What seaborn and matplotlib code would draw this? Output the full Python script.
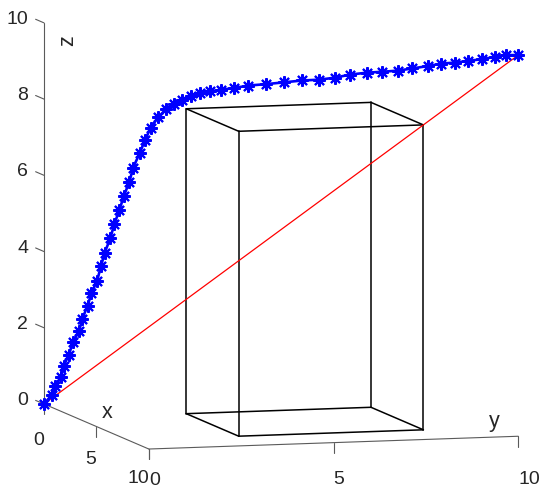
import numpy as np
import matplotlib
matplotlib.use("Agg")
import matplotlib.pyplot as plt
import seaborn as sns
from mpl_toolkits.mplot3d import proj3d

# Path (x = y along the path)
path_xy = [0.00, 0.16, 0.23, 0.36, 0.42, 0.52, 0.62, 0.74, 0.81, 0.92,
           1.00, 1.12, 1.20, 1.28, 1.40, 1.48, 1.59, 1.68, 1.80, 1.88,
           2.02, 2.13, 2.25, 2.41, 2.57, 2.74, 2.92, 3.09, 3.28, 3.50,
           3.73, 4.01, 4.31, 4.69, 5.07, 5.45, 5.80, 6.13, 6.46, 6.81,
           7.13, 7.47, 7.76, 8.09, 8.38, 8.66, 8.95, 9.24, 9.50, 9.75, 10.0]
path_z = [0.00, 0.25, 0.49, 0.74, 1.04, 1.33, 1.69, 1.98, 2.31, 2.66,
          2.99, 3.33, 3.71, 4.08, 4.47, 4.84, 5.22, 5.59, 5.98, 6.36,
          6.76, 7.10, 7.44, 7.73, 7.95, 8.10, 8.23, 8.33, 8.43, 8.50,
          8.56, 8.63, 8.72, 8.79, 8.87, 8.95, 9.00, 9.08, 9.19, 9.27,
          9.32, 9.38, 9.46, 9.55, 9.64, 9.69, 9.76, 9.83, 9.91, 9.98, 10.0]

# Straight line start -> goal
line_x = [0, 10]
line_y = [0, 10]
line_z = [0, 10]

# Obstacle box
box_x = [3, 8]
box_y = [3, 8]
box_z = [0, 8]

# Axes
x_ticks = [0, 5, 10]
y_ticks = [0, 5, 10]
z_ticks = [0, 2, 4, 6, 8, 10]
lim = (0, 10)

sns.set_style("white")
plt.rcParams["font.family"] = ["Liberation Sans", "DejaVu Sans"]
text_color = "#262626"
axis_color = "#5a5a5a"

fig = plt.figure(figsize=(5.5, 4.96), dpi=100)
ax = fig.add_axes([0, 0, 1, 1], projection="3d", computed_zorder=False)
ax.set_proj_type("ortho")
ax.set_box_aspect((1, 1, 1))
ax.view_init(elev=7.0, azim=-15.84)
ax.set_xlim(*lim)
ax.set_ylim(*lim)
ax.set_zlim(*lim)
ax.set_xticks([])
ax.set_yticks([])
ax.set_zticks([])
ax.set_axis_off()

# hand-drawn matlab style axes
ax.plot([0, 10], [0, 0], [0, 0], color=axis_color, lw=0.8, zorder=1)
ax.plot([10, 10], [0, 10], [0, 0], color=axis_color, lw=0.8, zorder=1)
ax.plot([0, 0], [0, 0], [0, 10], color=axis_color, lw=0.8, zorder=1)
for t in x_ticks:
    ax.plot([t, t], [0, 0], [0, -0.27], color=axis_color, lw=0.8, zorder=1)
    ax.text(t, 0, -0.95 + 0.018 * t, str(t), ha="right", va="center",
            fontsize=14, color=text_color)
for t in y_ticks:
    ax.plot([10, 10], [t, t], [0, -0.27], color=axis_color, lw=0.8, zorder=1)
    ax.text(10, t, -0.82 - 0.031 * t, str(t), ha="left", va="center",
            fontsize=14, color=text_color)
for t in z_ticks:
    ax.plot([0, -0.8], [0, 0], [t, t], color=axis_color, lw=0.8, zorder=1)
    ax.text(-0.8, -0.2, t, str(t), ha="right", va="center", fontsize=14, color=text_color)
ax.text(5.5, 0.14, 0.41, "x", ha="center", va="center", fontsize=15.5, color=text_color)
ax.text(10, 9.35, 0.42, "y", ha="center", va="center", fontsize=15.5, color=text_color)
ax.text(0, 0.65, 9.5, "z", zdir="z", ha="center", va="center", fontsize=15.5,
        color=text_color)

# obstacle edges
x0, x1 = box_x
y0, y1 = box_y
z0, z1 = box_z
edges = [
    ([x0, x1], [y0, y0], [z0, z0]), ([x0, x1], [y1, y1], [z0, z0]),
    ([x0, x1], [y0, y0], [z1, z1]), ([x0, x1], [y1, y1], [z1, z1]),
    ([x0, x0], [y0, y1], [z0, z0]), ([x1, x1], [y0, y1], [z0, z0]),
    ([x0, x0], [y0, y1], [z1, z1]), ([x1, x1], [y0, y1], [z1, z1]),
    ([x0, x0], [y0, y0], [z0, z1]), ([x1, x1], [y0, y0], [z0, z1]),
    ([x0, x0], [y1, y1], [z0, z1]), ([x1, x1], [y1, y1], [z0, z1]),
]
for ex, ey, ez in edges:
    ax.plot(ex, ey, ez, color="black", lw=1.1, zorder=2)

ax.plot(line_x, line_y, line_z, color="red", lw=0.9, zorder=3)
ax.plot(path_xy, path_xy, path_z, color="blue", lw=1.9, marker=(8, 2, 0),
        ms=9, mew=1.5, zorder=4)

# scale/shift the axes so the box lands where it sits in the reference
W, H = fig.bbox.width, fig.bbox.height
T0 = np.array([44.0, H - 404.0])
T1 = np.array([518.5, H - 55.5])


def screen(p):
    xs, ys, _ = proj3d.proj_transform(p[0], p[1], p[2], ax.get_proj())
    return np.array(ax.transData.transform((xs, ys)))


for _ in range(3):
    fig.canvas.draw()
    p0 = screen((0, 0, 0))
    p1 = screen((10, 10, 10))
    bb = ax.get_position().transformed(fig.transFigure)
    f = np.hypot(*(T1 - T0)) / np.hypot(*(p1 - p0))
    c0 = np.array([bb.x0 + bb.width / 2, bb.y0 + bb.height / 2])
    s = bb.width * f
    c = T0 - f * (p0 - c0)
    ax.set_position([(c[0] - s / 2) / W, (c[1] - s / 2) / H, s / W, s / H])

fig.savefig("out.png", dpi=100)
